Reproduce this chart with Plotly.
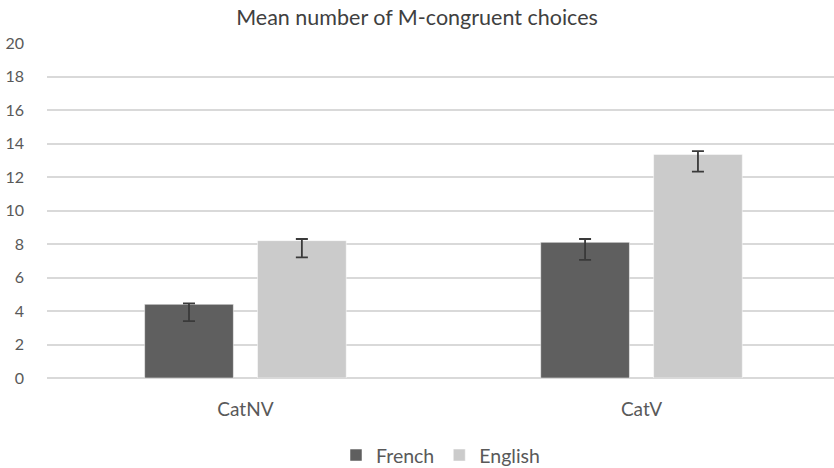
import plotly.graph_objects as go

categories = ["CatNV", "CatV"]
french = [4.4, 8.1]
french_err_plus = [0.05, 0.2]
french_err_minus = [1.0, 1.05]
english = [8.2, 13.35]
english_err_plus = [0.1, 0.2]
english_err_minus = [1.0, 1.03]

INK = "#595959"
ERR = dict(type="data", symmetric=False, color="#3a3a3a", thickness=1.8, width=6)

fig = go.Figure()
fig.add_trace(go.Bar(name="French", x=categories, y=french, marker_color="#5f5f5f",
                     error_y=dict(array=french_err_plus, arrayminus=french_err_minus, **ERR)))
fig.add_trace(go.Bar(name="English", x=categories, y=english, marker_color="#cbcbcb",
                     error_y=dict(array=english_err_plus, arrayminus=english_err_minus, **ERR)))

fig.update_layout(
    width=834, height=468, template="plotly_white",
    font=dict(family="Lato, 'Open Sans', sans-serif", color=INK, size=16),
    title=dict(text="Mean number of M-congruent choices", x=0.5, xanchor="center",
               y=0.962, yanchor="middle", font=dict(size=21.5, color="#404040")),
    barmode="group", bargap=0.43, bargroupgap=0.214,
    margin=dict(l=47, r=0, t=43, b=90, autoexpand=False),
    legend=dict(orientation="h", x=0.5, xanchor="center", yref="container",
                y=0.027, yanchor="middle", itemwidth=30,
                font=dict(size=19.5, color=INK)),
    plot_bgcolor="white", paper_bgcolor="white",
)
fig.update_yaxes(range=[0, 20], dtick=2, gridcolor="#d9d9d9", gridwidth=1.5,
                 zeroline=True, zerolinecolor="#d9d9d9", zerolinewidth=1.5,
                 ticks="", tickfont=dict(size=16, color=INK), ticklabelstandoff=22,
                 automargin=False)
fig.update_xaxes(range=[-0.501, 1.486], showgrid=False, tickfont=dict(size=19, color=INK),
                 ticklabelstandoff=18, automargin=False)

# the page's default 8px body margin would push the figure off the window
fig.write_html("out.html", config={"displayModeBar": False},
               post_script="document.body.style.margin='0';"
                           "document.body.style.overflow='hidden';")
